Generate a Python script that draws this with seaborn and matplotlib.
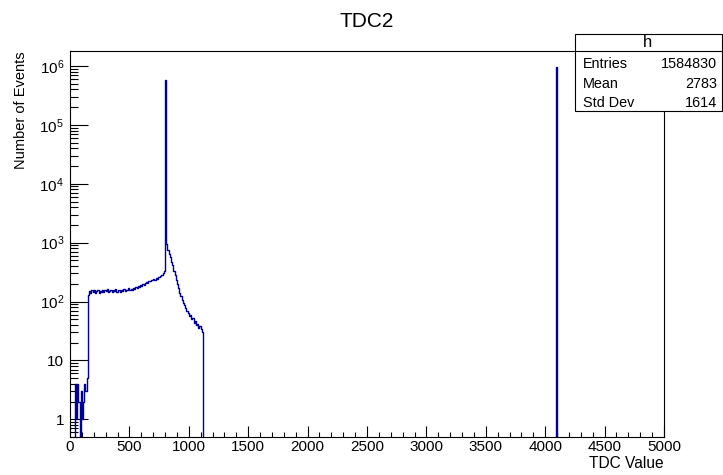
import numpy as np
import pandas as pd
import matplotlib
matplotlib.use("Agg")
import matplotlib.pyplot as plt
import seaborn as sns
from matplotlib.ticker import LogLocator, NullFormatter, MultipleLocator
from matplotlib.patches import Rectangle
from matplotlib.lines import Line2D

# ---------------- data ----------------
title = "TDC2"
x_label = "TDC Value"
y_label = "Number of Events"
bin_width = 10
# counts for bins starting at 0, 10, 20, ... 1110
low_counts = [
    0, 0, 0, 0, 4, 1, 4, 2, 0, 3, 1, 2, 4, 3, 5, 130,
    150, 138, 155, 145, 160, 142, 150, 158, 140, 152, 147, 160, 143, 155,
    150, 162, 146, 153, 158, 144, 156, 150, 163, 148, 155, 160, 147, 158,
    152, 165, 150, 160, 156, 168,
    160, 166, 158, 170, 164, 176, 170, 182, 178, 190, 186, 198, 194, 208,
    214, 210, 224, 220, 232, 228, 240, 236, 248, 244, 256, 262, 270, 282,
    300, 330,
    590000, 950, 760, 640, 560, 470, 410, 330, 280, 235, 195, 170, 142, 125,
    108, 96, 86, 78, 68, 64, 56, 58, 50, 52, 44, 46, 40, 42, 36, 38, 34, 30,
]
spike_bin = 4090
spike_count = 950000
x_range = (0, 5000)

stats_name = "h"
stats_labels = ["Entries", "Mean", "Std Dev"]
stats_values = ["1584830", "2783", "1614"]

x_ticks = [0, 500, 1000, 1500, 2000, 2500, 3000, 3500, 4000, 4500, 5000]
y_ticks = [1, 10, 1e2, 1e3, 1e4, 1e5, 1e6]
y_tick_labels = ["1", "10", r"$\mathregular{10^{2}}$", r"$\mathregular{10^{3}}$",
                 r"$\mathregular{10^{4}}$", r"$\mathregular{10^{5}}$", r"$\mathregular{10^{6}}$"]

# ---------------- build histogram table ----------------
edges = np.arange(x_range[0], x_range[1] + bin_width, bin_width)
counts = np.zeros(len(edges) - 1)
counts[:len(low_counts)] = low_counts
counts[spike_bin // bin_width] = spike_count
df = pd.DataFrame({"tdc": edges[:-1] + bin_width / 2, "n": counts})

# ---------------- style ----------------
sns.set_style("ticks")
plt.rcParams["font.family"] = ["Liberation Sans", "DejaVu Sans"]
plt.rcParams["mathtext.fontset"] = "custom"
plt.rcParams["mathtext.rm"] = "Liberation Sans"
plt.rcParams["mathtext.it"] = "Liberation Sans:italic"
plt.rcParams["mathtext.bf"] = "Liberation Sans:bold"
for key in ["text.color", "axes.labelcolor", "xtick.color", "ytick.color",
            "xtick.labelcolor", "ytick.labelcolor", "axes.edgecolor"]:
    plt.rcParams[key] = "black"

W, H = 723, 475
fig = plt.figure(figsize=(W / 100, H / 100), dpi=100)
fig.patch.set_facecolor("white")
ax = fig.add_axes([70 / W, 1 - 437 / H, (664 - 70) / W, (437 - 51) / H])

sns.histplot(data=df, x="tdc", weights="n", binwidth=bin_width, binrange=x_range,
             element="step", fill=False, color="#000099", linewidth=1.0, ax=ax)
ax.set_yscale("log")
ax.set_xlim(*x_range)
ax.set_ylim(0.5, 1.8e6)

for s in ax.spines.values():
    s.set_visible(True)
    s.set_linewidth(0.8)
    s.set_color("black")

ax.set_xticks(x_ticks)
ax.set_xticklabels([str(t) for t in x_ticks])
ax.xaxis.set_minor_locator(MultipleLocator(100))
ax.set_yticks(y_ticks)
ax.set_yticklabels(y_tick_labels)
ax.yaxis.set_minor_locator(LogLocator(base=10, subs=np.arange(2, 10), numticks=30))
ax.yaxis.set_minor_formatter(NullFormatter())

ax.tick_params(axis="x", which="major", direction="in", length=7.7, width=0.8, pad=2, labelsize=11)
ax.tick_params(axis="x", which="minor", direction="in", length=3.6, width=0.8)
ax.tick_params(axis="y", which="major", direction="in", length=12.7, width=0.8, pad=4.3, labelsize=11)
ax.tick_params(axis="y", which="minor", direction="in", length=5.8, width=0.8)
ax.tick_params(top=False, right=False, which="both")

ax.set_xlabel(x_label, loc="right", fontsize=11.2)
ax.xaxis.set_label_coords(1.0, -0.05)
ax.set_ylabel(y_label, loc="top", fontsize=10.5)
ax.yaxis.set_label_coords(-0.0707, 1.0)
ax.set_title(title, fontsize=15, pad=17.5)

# ---------------- stats box ----------------
def fx(px):
    return px / W

def fy(py):
    return 1 - py / H

box_l, box_r, box_t, box_b = 575, 722, 34, 111
fig.add_artist(Rectangle((fx(box_l), fy(box_b)), fx(box_r) - fx(box_l), fy(box_t) - fy(box_b),
                         transform=fig.transFigure, facecolor="white", edgecolor="black",
                         linewidth=0.8, zorder=10))
fig.add_artist(Line2D([fx(box_l), fx(box_r)], [fy(50.5), fy(50.5)], transform=fig.transFigure,
                      color="black", linewidth=0.8, zorder=11))
fig.text(fx(648), fy(42.5), stats_name, ha="center", va="center", fontsize=12, zorder=12)
row_y = [64, 84, 103]
for lab, val, yy in zip(stats_labels, stats_values, row_y):
    fig.text(fx(583), fy(yy), lab, ha="left", va="center", fontsize=10.4, zorder=12)
    fig.text(fx(717), fy(yy), val, ha="right", va="center", fontsize=10.4, zorder=12)

fig.savefig("out.png", dpi=100, facecolor="white")
